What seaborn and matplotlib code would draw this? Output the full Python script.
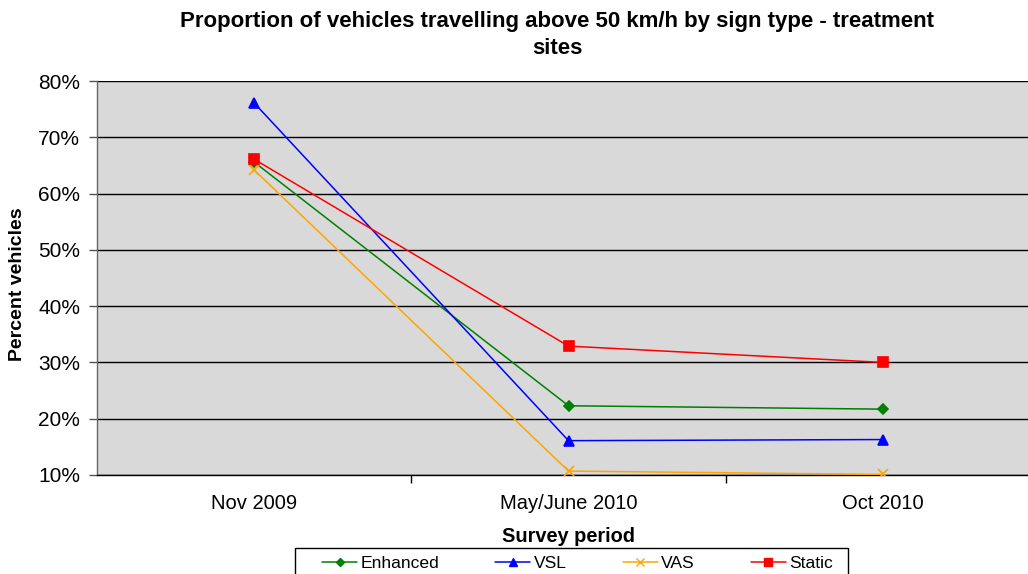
import matplotlib
matplotlib.use("Agg")
import matplotlib.pyplot as plt
import seaborn as sns
import pandas as pd
import numpy as np
from matplotlib.ticker import FuncFormatter, MultipleLocator
from matplotlib.lines import Line2D
from matplotlib.patches import Rectangle

periods = ["Nov 2009", "May/June 2010", "Oct 2010"]
series_names = ["Enhanced", "VSL", "VAS", "Static"]
enhanced = [65.6, 22.3, 21.7]
vsl = [76.1, 16.1, 16.3]
vas = [64.2, 10.7, 10.1]
static = [66.1, 32.9, 30.0]
colors = ["#008000", "#0000FF", "#FFA500", "#FF0000"]
marker_list = ["D", "^", "x", "s"]
marker_sizes = [5, 7, 7, 7]

values = [enhanced, vsl, vas, static]

sns.set_theme(style="white")
plt.rcParams["font.family"] = ["Liberation Sans", "DejaVu Sans"]
plt.rcParams["text.color"] = "black"
plt.rcParams["axes.labelcolor"] = "black"
plt.rcParams["xtick.color"] = "black"
plt.rcParams["ytick.color"] = "black"

fig = plt.figure(figsize=(10.28, 5.74), dpi=100)
W, H = 1028, 574
ax = fig.add_axes([97 / W, 1 - 475 / H, (1040 - 97) / W, (475 - 81) / H])
ax.set_facecolor("#D9D9D9")

for name, vals, c, m, ms in zip(series_names, values, colors, marker_list, marker_sizes):
    d = pd.DataFrame({"pos": np.arange(len(periods)), "value": vals})
    sns.lineplot(data=d, x="pos", y="value", color=c, marker=m, markersize=ms,
                 markeredgewidth=1.2, markeredgecolor=c, linewidth=1.1, ax=ax,
                 legend=False, zorder=3)

ax.set_xlim(-0.5, 2.5)
ax.set_ylim(10, 80)
ax.yaxis.set_major_locator(MultipleLocator(10))
ax.yaxis.set_major_formatter(FuncFormatter(lambda v, p: f"{int(round(v))}%"))
ax.set_xticks([0, 1, 2])
ax.set_xticklabels(periods)
ax.set_xticks([0.5, 1.5], minor=True)
ax.tick_params(axis="x", which="major", length=0, labelsize=14.5, pad=14, labelcolor="black")
ax.tick_params(axis="x", which="minor", length=6, width=1, direction="out", color="black", bottom=True)
ax.tick_params(axis="y", which="major", length=6, width=1, direction="out", labelsize=15,
               left=True, color="#555555", labelcolor="black", pad=6)
ax.grid(axis="y", color="black", linewidth=1.0)
ax.grid(axis="x", visible=False)
for s in ["top", "right"]:
    ax.spines[s].set_visible(False)
ax.spines["left"].set_color("#666666")
ax.spines["bottom"].set_color("black")
ax.spines["left"].set_linewidth(1.0)
ax.spines["bottom"].set_linewidth(1.0)

ax.set_xlabel("")
ax.set_ylabel("")
fig.text(18 / W, 1 - 284 / H, "Percent vehicles", rotation=90, ha="center", va="center",
         fontsize=14, fontweight="bold")
fig.text(569 / W, 1 - 537 / H, "Survey period", ha="center", va="center",
         fontsize=14.4, fontweight="bold")
fig.text(557 / W, 1 - 35 / H,
         "Proportion of vehicles travelling above 50 km/h by sign type - treatment\nsites",
         ha="center", va="center", fontsize=16, fontweight="bold", linespacing=1.4)

# legend frame (extends past bottom edge, as in reference)
fig.patches.append(Rectangle((295 / W, -0.02), (848 - 295) / W, 1 - 548 / H + 0.02,
                             transform=fig.transFigure, facecolor="white",
                             edgecolor="black", linewidth=1.0, zorder=1))
handles = [Line2D([], [], color=c, marker=m, markersize=ms * 0.8, linewidth=1.1)
           for c, m, ms in zip(colors, marker_list, marker_sizes)]
leg = fig.legend(handles, series_names, loc="upper left",
                 bbox_to_anchor=(322 / W, 1 - 556 / H), ncol=4, fontsize=12.6,
                 frameon=False, borderpad=0, borderaxespad=0, columnspacing=3.2,
                 handlelength=2.0, handletextpad=0.2)
leg.set_zorder(2)

fig.savefig("out.png", dpi=100)
